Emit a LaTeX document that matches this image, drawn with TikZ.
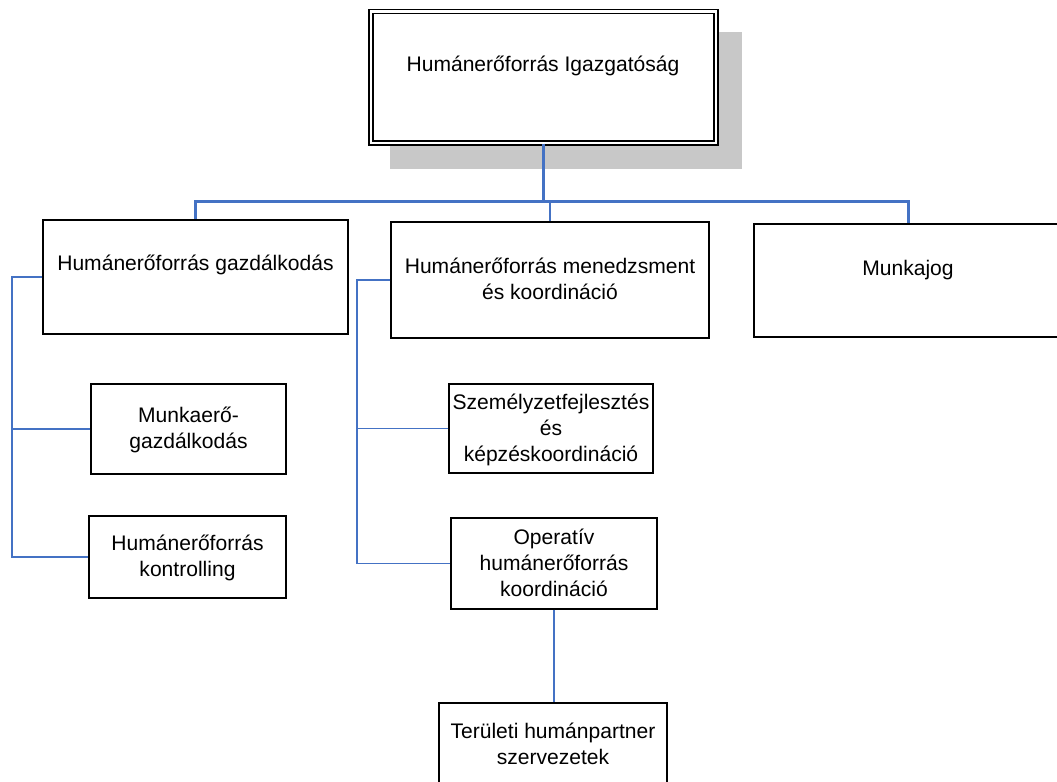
\documentclass[tikz,border=0pt]{standalone}
\usepackage{fontspec}
\setmainfont{Liberation Sans}
\definecolor{orgblue}{HTML}{4472C4}
\definecolor{shadowgray}{HTML}{C8C8C8}
\newcommand\lbfont{\fontsize{15.8pt}{19.5pt}\selectfont}
\begin{document}
\begin{tikzpicture}[
  x=0.75pt, y=-0.75pt,
  box/.style={draw=black, line width=1pt, fill=white, rectangle, inner sep=0pt},
  wh/.style 2 args={minimum width=#1*0.75pt, minimum height=#2*0.75pt},
  lbl/.style={font=\lbfont, align=center, inner sep=0pt},
  trunk/.style={draw=orgblue, line width=2.25pt},
  branch/.style={draw=orgblue, line width=1.4pt},
  twig/.style={draw=orgblue, line width=1.1pt}
]
\useasboundingbox (0,0) rectangle (1057,782);
\clip (0,0) rectangle (1057,782);
\fill[white] (0,0) rectangle (1057,782);

% head office with drop shadow and double frame
\fill[shadowgray] (390,32) rectangle (742,169);
\node[box, double=white, double distance=2pt, wh={345}{131.5}] (top) at (543.5,77.25) {};

% department boxes
\node[box, wh={305}{114}] (gazd)  at (195.5,277) {};
\node[box, wh={318}{116}] (mened) at (550,280) {};
\node[box, wh={308}{113}] (mjog)  at (908,280.5) {};

% units
\node[box, wh={195}{90}]  (mero)  at (188.5,429) {};
\node[box, wh={197}{82}]  (kontr) at (187.5,557) {};
\node[box, wh={204}{89}]  (szem)  at (551,428.5) {};
\node[box, wh={206}{91}]  (oper)  at (554,563.5) {};
\node[box, wh={228}{97}]  (terul) at (553,751.5) {};

% connectors from the head office
\coordinate (hub) at (543.5,201);
\draw[trunk] (top.south) -- (hub);
\draw[trunk] (hub) -| (gazd.north);
\draw[trunk] (hub) -| (mjog.north);
\draw[branch] (hub -| mened.north) -- (mened.north);

% left bracket
\coordinate (lx) at (12,0);
\draw[twig] (gazd.west) -- (gazd.west -| lx) |- (kontr.west);
\draw[twig] (mero.west) -- (mero.west -| lx);

% middle bracket
\coordinate (mx) at (357,0);
\draw[twig] (mened.west) -- (mened.west -| mx) |- (oper.west);
\draw[twig] (szem.west) -- (szem.west -| mx);
\draw[branch] (oper.south) -- (oper.south |- terul.north);

% labels
\node[lbl] (topT)   at (543,66.5)   {\strut Humánerőforrás Igazgatóság};
\node[lbl] (gazdT)  at (195.5,265)  {\strut Humánerőforrás gazdálkodás};
\node[lbl] (menedT) at (550,281.5)  {\strut Humánerőforrás menedzsment\\\strut és koordináció};
\node[lbl] (mjogT)  at (908,270)    {\strut Munkajog};
\node[lbl] (meroT)  at (188.5,430.5){\strut Munkaerő-\\\strut gazdálkodás};
\node[lbl] (kontrT) at (187.5,558)  {\strut Humánerőforrás\\\strut kontrolling};
\node[lbl] (szemT)  at (551,430)    {\strut Személyzetfejlesztés\\\strut és\\\strut képzéskoordináció};
\node[lbl] (operT)  at (554,565)    {\strut Operatív\\\strut humánerőforrás\\\strut koordináció};
\node[lbl] (terulT) at (553,746.5)  {\strut Területi humánpartner\\\strut szervezetek};
\end{tikzpicture}
\end{document}
